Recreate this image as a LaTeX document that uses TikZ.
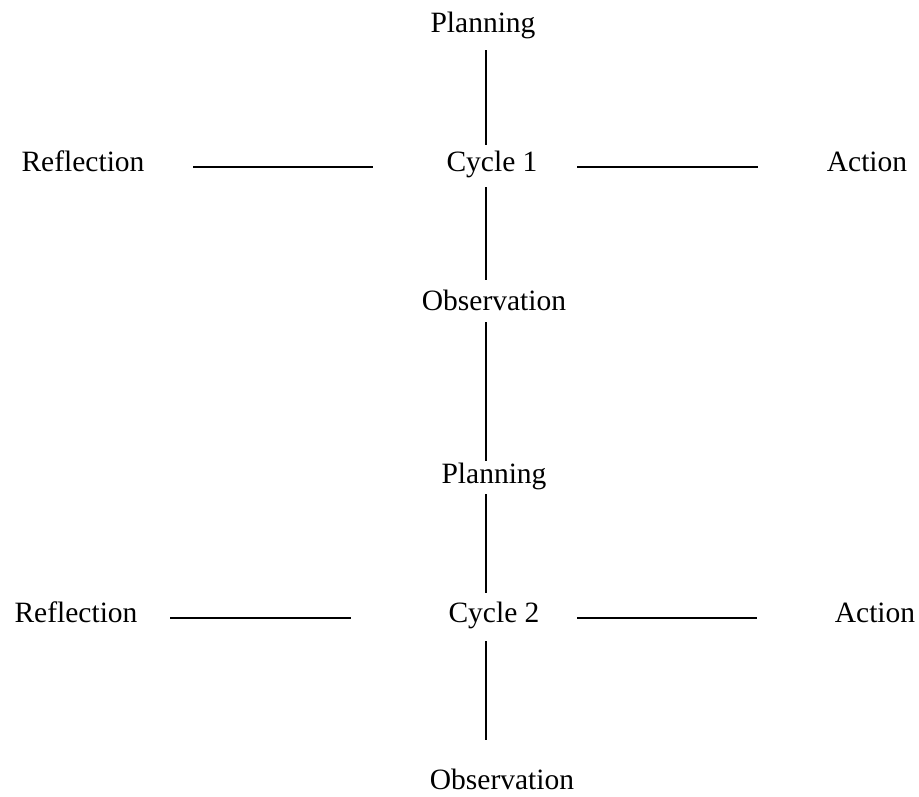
\documentclass[tikz,border=0pt]{standalone}
\usepackage{fontspec}
\setmainfont{Liberation Serif}
\usepackage{tikz}
\usetikzlibrary{calc, positioning}

\begin{document}
\begin{tikzpicture}[x=1pt, y=-1pt,
	stage/.style={anchor=base, inner sep=0, text height=17.7pt, text depth=10.3pt, font=\fontsize{29.5}{35}\selectfont},
	vline/.style={line width=1.2pt},
	hline/.style={line width=1.8pt}]
	\useasboundingbox (0,0) rectangle (919,796);
	\coordinate (axis) at (486,0);
	% nodos ciclo 1 %
	\node[stage] (p1) at (483,32) {Planning};
	\node[stage] (c1) at (492,171) {Cycle 1};
	\node[stage] (r1) at (83,171) {Reflection};
	\node[stage] (a1) at (867,171) {Action};
	\node[stage] (o1) at (494,310) {Observation};
	% nodos ciclo 2 %
	\node[stage] (p2) at (494,483) {Planning};
	\node[stage] (c2) at (494,622) {Cycle 2};
	\node[stage] (r2) at (76,622) {Reflection};
	\node[stage] (a2) at (875,622) {Action};
	\node[stage, text depth=1pt] (o2) at (502,789) {Observation};
	% conexiones %
	\draw[vline, shorten <=7.7pt, shorten >=8.3pt] (p1.south -| axis) -- (c1.north -| axis);
	\draw[vline, shorten <=5.7pt, shorten >=12.3pt] (c1.south -| axis) -- (o1.north -| axis);
	\draw[vline, shorten <=1.7pt, shorten >=4.3pt] (o1.south -| axis) -- (p2.north -| axis);
	\draw[vline, shorten <=0.7pt, shorten >=11.3pt] (p2.south -| axis) -- (c2.north -| axis);
	\draw[vline, shorten <=8.7pt, shorten >=31.3pt] (c2.south -| axis) -- (o2.north -| axis);
	\draw[hline, shorten <=48.5pt, shorten >=73.5pt] (r1.east) -- (c1.west);
	\draw[hline, shorten <=39.5pt, shorten >=68.9pt] (c1.east) -- (a1.west);
	\draw[hline, shorten <=32.5pt, shorten >=97.5pt] (r2.east) -- (c2.west);
	\draw[hline, shorten <=37.5pt, shorten >=77.9pt] (c2.east) -- (a2.west);
\end{tikzpicture}
\end{document}
